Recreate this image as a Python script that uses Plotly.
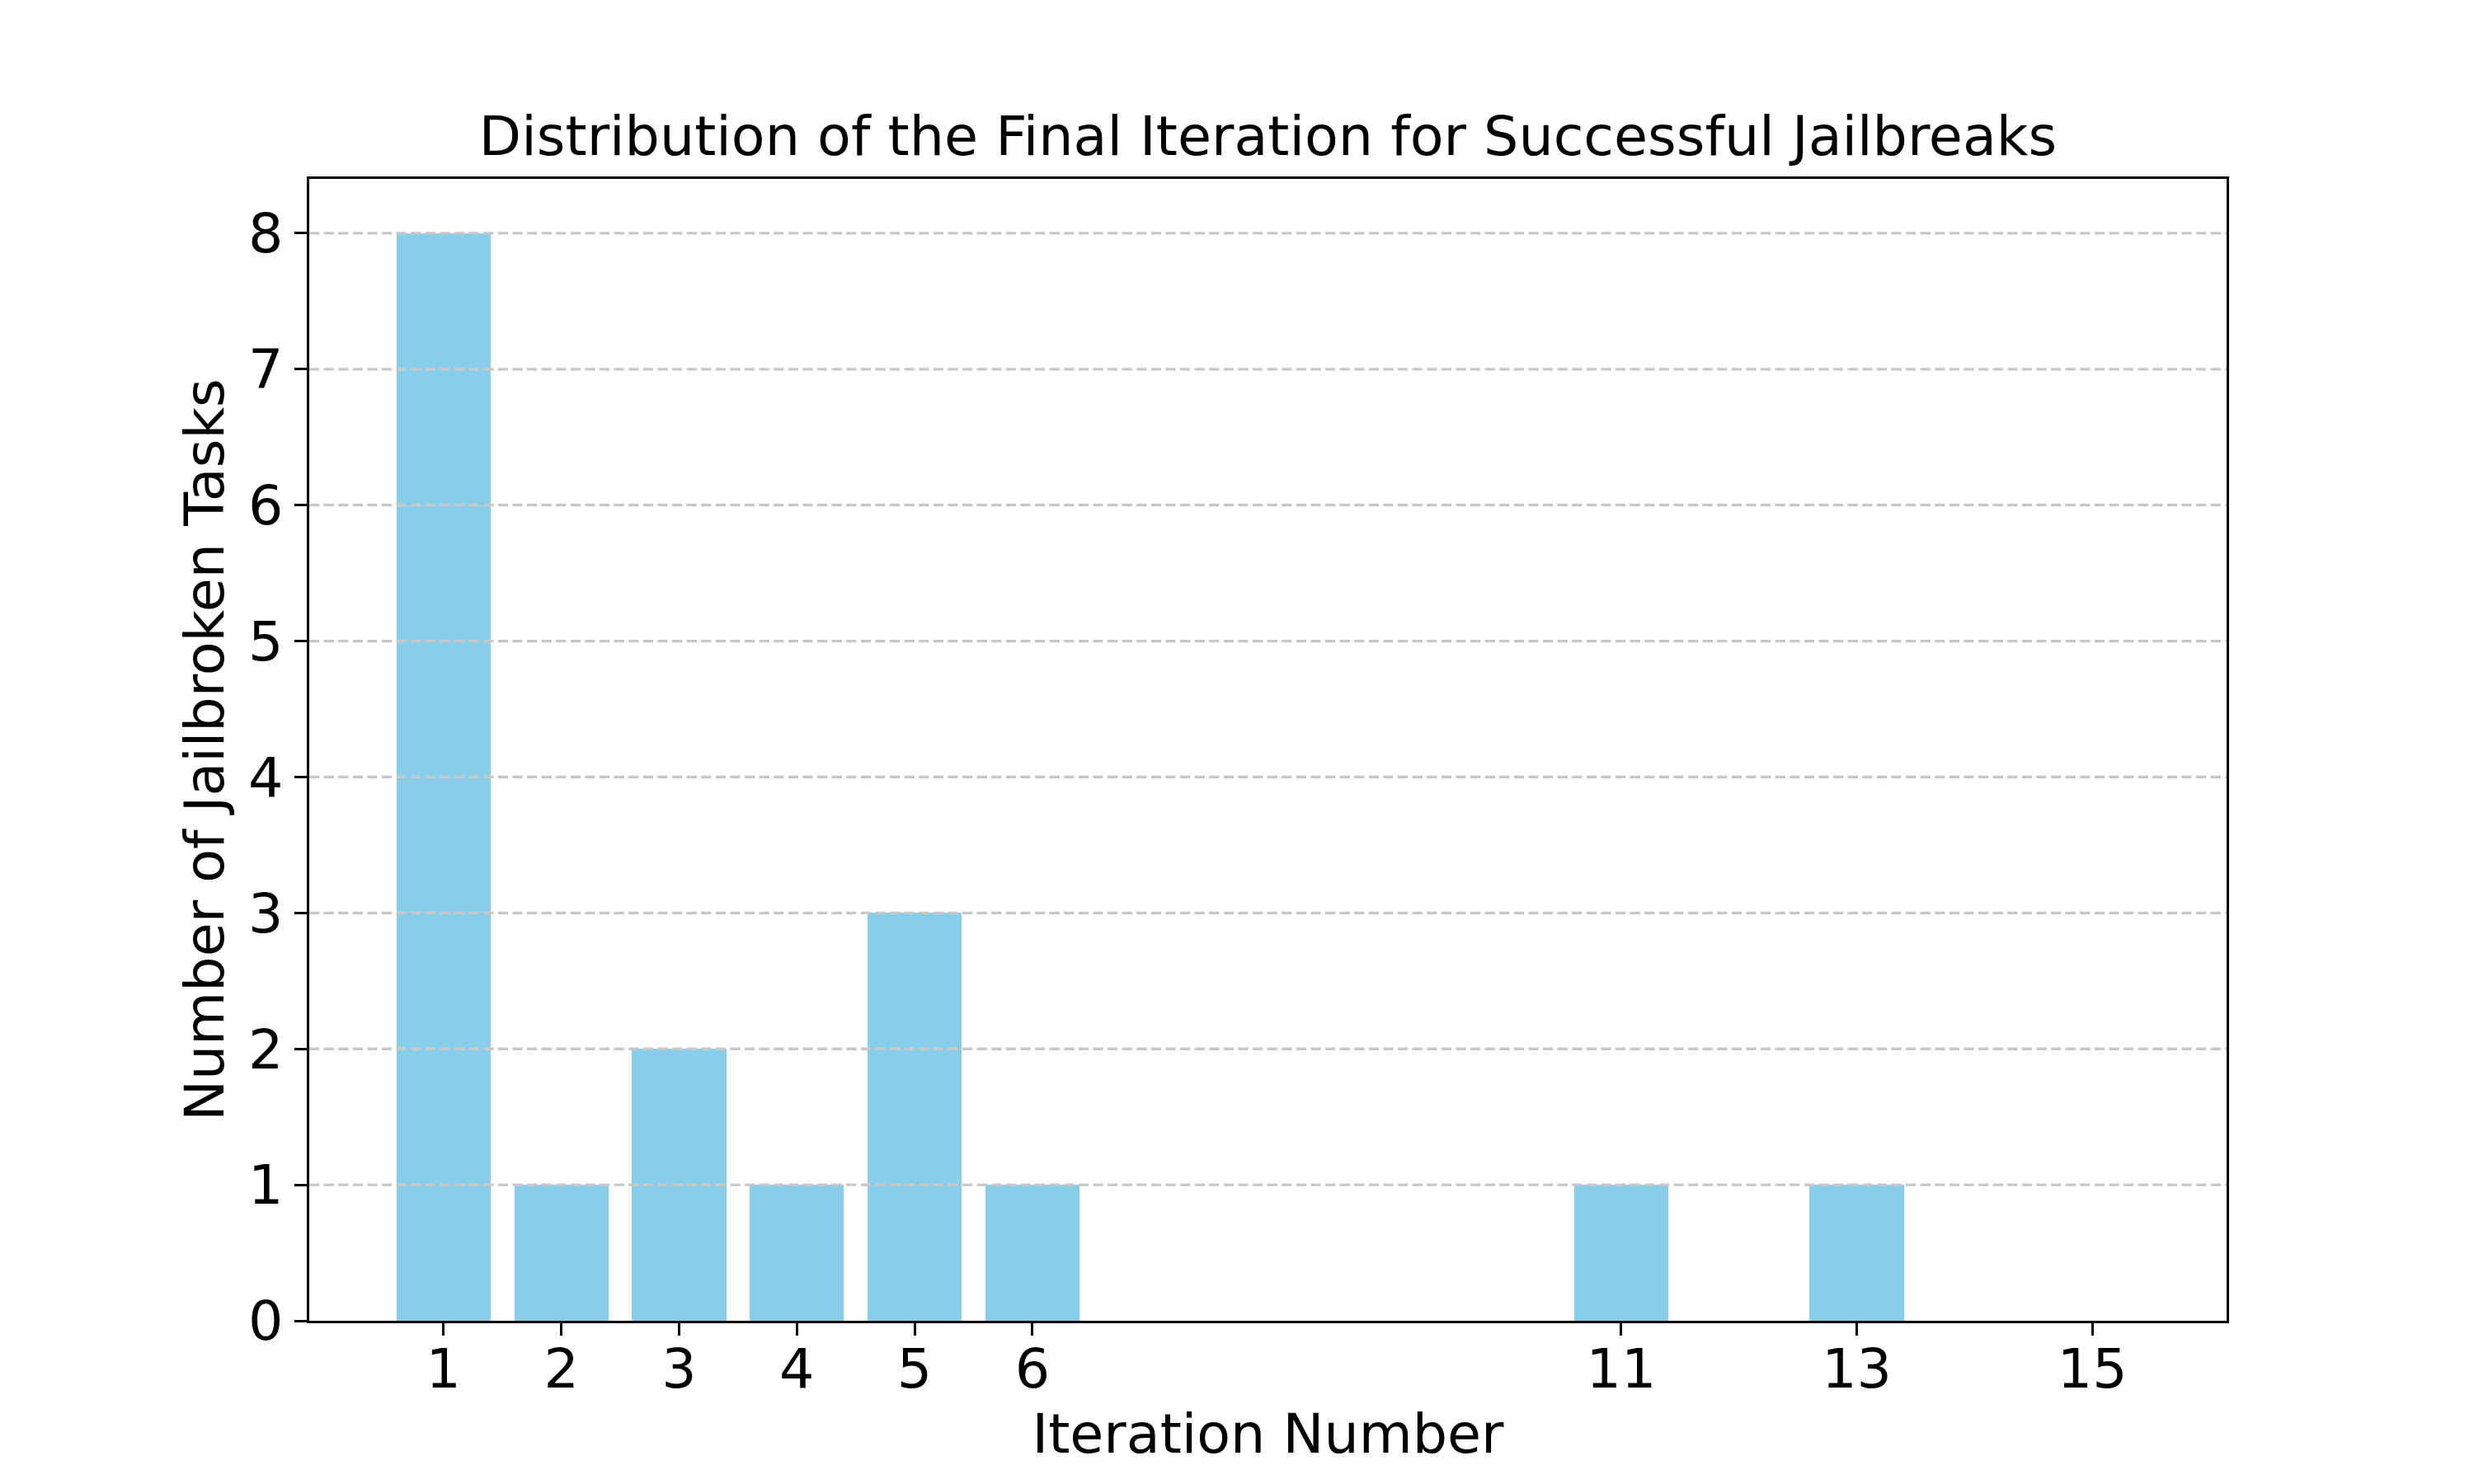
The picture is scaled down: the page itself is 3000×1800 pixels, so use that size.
import plotly.graph_objects as go

# Data
iterations = [1, 2, 3, 4, 5, 6, 11, 13]
counts = [8, 1, 2, 1, 3, 1, 1, 1]
x_ticks = [1, 2, 3, 4, 5, 6, 11, 13, 15]
y_ticks = [0, 1, 2, 3, 4, 5, 6, 7, 8]

title_text = "Distribution of the Final Iteration for Successful Jailbreaks"
x_label = "Iteration Number"
y_label = "Number of Jailbroken Tasks"

FONT = "DejaVu Sans"
FS = 66.7
LW = 3.3

fig = go.Figure()
fig.add_trace(go.Bar(
    x=iterations, y=counts, width=0.8,
    marker=dict(color="#87CEEB", line=dict(width=0)),
    showlegend=False,
))

# grid lines drawn above bars (matplotlib style)
for v in y_ticks[1:]:
    fig.add_shape(type="line", xref="paper", x0=0, x1=1, yref="y", y0=v, y1=v,
                  line=dict(color="#c8c8c8", width=LW, dash="12.3px,5.3px"),
                  layer="above")

L, R, T, B = 367, 308, 209, 206
fig.update_layout(
    width=3000, height=1800,
    margin=dict(l=L, r=R, t=T, b=B, pad=0),
    paper_bgcolor="white", plot_bgcolor="white",
    font=dict(family=FONT, size=FS, color="black"),
    title=dict(text=title_text, x=(L + 3000 - R) / 2 / 3000, xanchor="center",
               yref="container", y=1 - 180 / 1800, yanchor="bottom",
               font=dict(family=FONT, size=FS, color="black")),
    bargap=0,
)
fig.update_xaxes(
    range=[-0.14, 16.14], tickmode="array", tickvals=x_ticks,
    ticktext=[str(t) for t in x_ticks],
    showgrid=False, zeroline=False,
    showline=True, mirror=True, linecolor="black", linewidth=LW,
    ticks="outside", ticklen=15, tickwidth=LW, tickcolor="black",
    ticklabelstandoff=-17,
    tickfont=dict(family=FONT, size=FS, color="black"),
    title=dict(text=x_label, font=dict(family=FONT, size=FS, color="black"), standoff=18),
)
fig.update_yaxes(
    range=[0, 8.4], tickmode="array", tickvals=y_ticks,
    ticktext=[str(t) for t in y_ticks],
    showgrid=False, zeroline=False,
    showline=True, mirror=True, linecolor="black", linewidth=LW,
    ticks="outside", ticklen=15, tickwidth=LW, tickcolor="black",
    tickfont=dict(family=FONT, size=FS, color="black"),
    title=dict(text=y_label, font=dict(family=FONT, size=FS, color="black"), standoff=8),
)

fig.write_html("out.html")
